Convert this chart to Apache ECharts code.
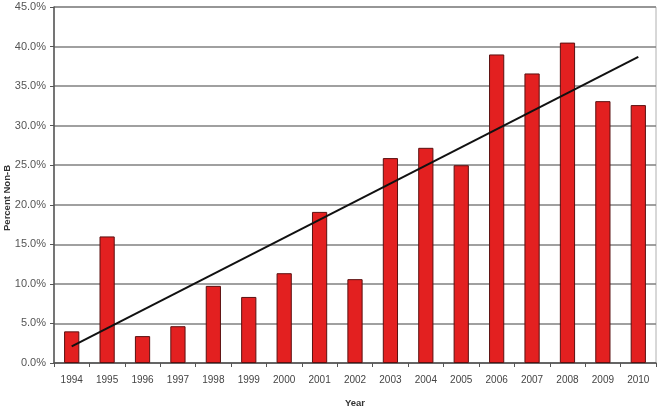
<!DOCTYPE html>
<html><head><meta charset="utf-8">
<script src="https://cdn.jsdelivr.net/npm/echarts@6/dist/echarts.min.js"></script>
<style>html,body{margin:0;padding:0;background:#fff}#c{width:662px;height:413px}</style>
</head><body><div id="c"></div>
<script>
const years = ['1994','1995','1996','1997','1998','1999','2000','2001','2002','2003','2004','2005','2006','2007','2008','2009','2010'];
const percentNonB = [4.0,16.0,3.4,4.65,9.75,8.35,11.35,19.1,10.6,25.9,27.2,25.0,39.0,36.6,40.5,33.1,32.6];
const trendStart = ['1994', 2.1];
const trendEnd = ['2010', 38.7];

const chart = echarts.init(document.getElementById('c'));
chart.setOption({
  animation: false,
  backgroundColor: '#fff',
  grid: { left: 54, right: 6, top: 7, bottom: 50, containLabel: false, outerBoundsMode: 'none', show: true, borderColor: '#b0b0b0', borderWidth: 1 },
  xAxis: {
    type: 'category', data: years,
    name: 'Year', nameLocation: 'middle', nameGap: 35, nameMoveOverlap: false,
    nameTextStyle: { fontFamily: 'Liberation Sans, Arial', fontWeight: 'bold', fontSize: 9.5, color: '#333' },
    axisLine: { lineStyle: { color: '#555', width: 1.5 } },
    axisTick: { show: true, alignWithLabel: false, lineStyle: { color: '#555' }, length: 4 },
    axisLabel: { fontFamily: 'Liberation Sans, Arial', fontSize: 10, color: '#444', margin: 12 }
  },
  yAxis: {
    type: 'value', min: 0, max: 45, interval: 5,
    name: 'Percent Non-B', nameLocation: 'middle', nameGap: 42, nameMoveOverlap: false,
    nameTextStyle: { fontFamily: 'Liberation Sans, Arial', fontWeight: 'bold', fontSize: 9.5, color: '#333', padding: [0, 26, 0, 0] },
    axisLine: { show: true, lineStyle: { color: '#555', width: 1.5 } },
    axisTick: { show: true, length: 4, lineStyle: { color: '#555' } },
    axisLabel: { fontFamily: 'Liberation Sans, Arial', fontSize: 11, color: '#555', margin: 8, formatter: v => v.toFixed(1) + '%' },
    splitLine: { lineStyle: { color: '#808080', width: 1.5 } }
  },
  series: [
    {
      type: 'bar', data: percentNonB, barWidth: '43%',
      itemStyle: { color: '#e32020', borderColor: '#5a1010', borderWidth: 1 }
    },
    {
      type: 'line', data: [trendStart, trendEnd], symbol: 'none',
      lineStyle: { color: '#111', width: 2 }, z: 5
    }
  ]
});
</script>
</body></html>
